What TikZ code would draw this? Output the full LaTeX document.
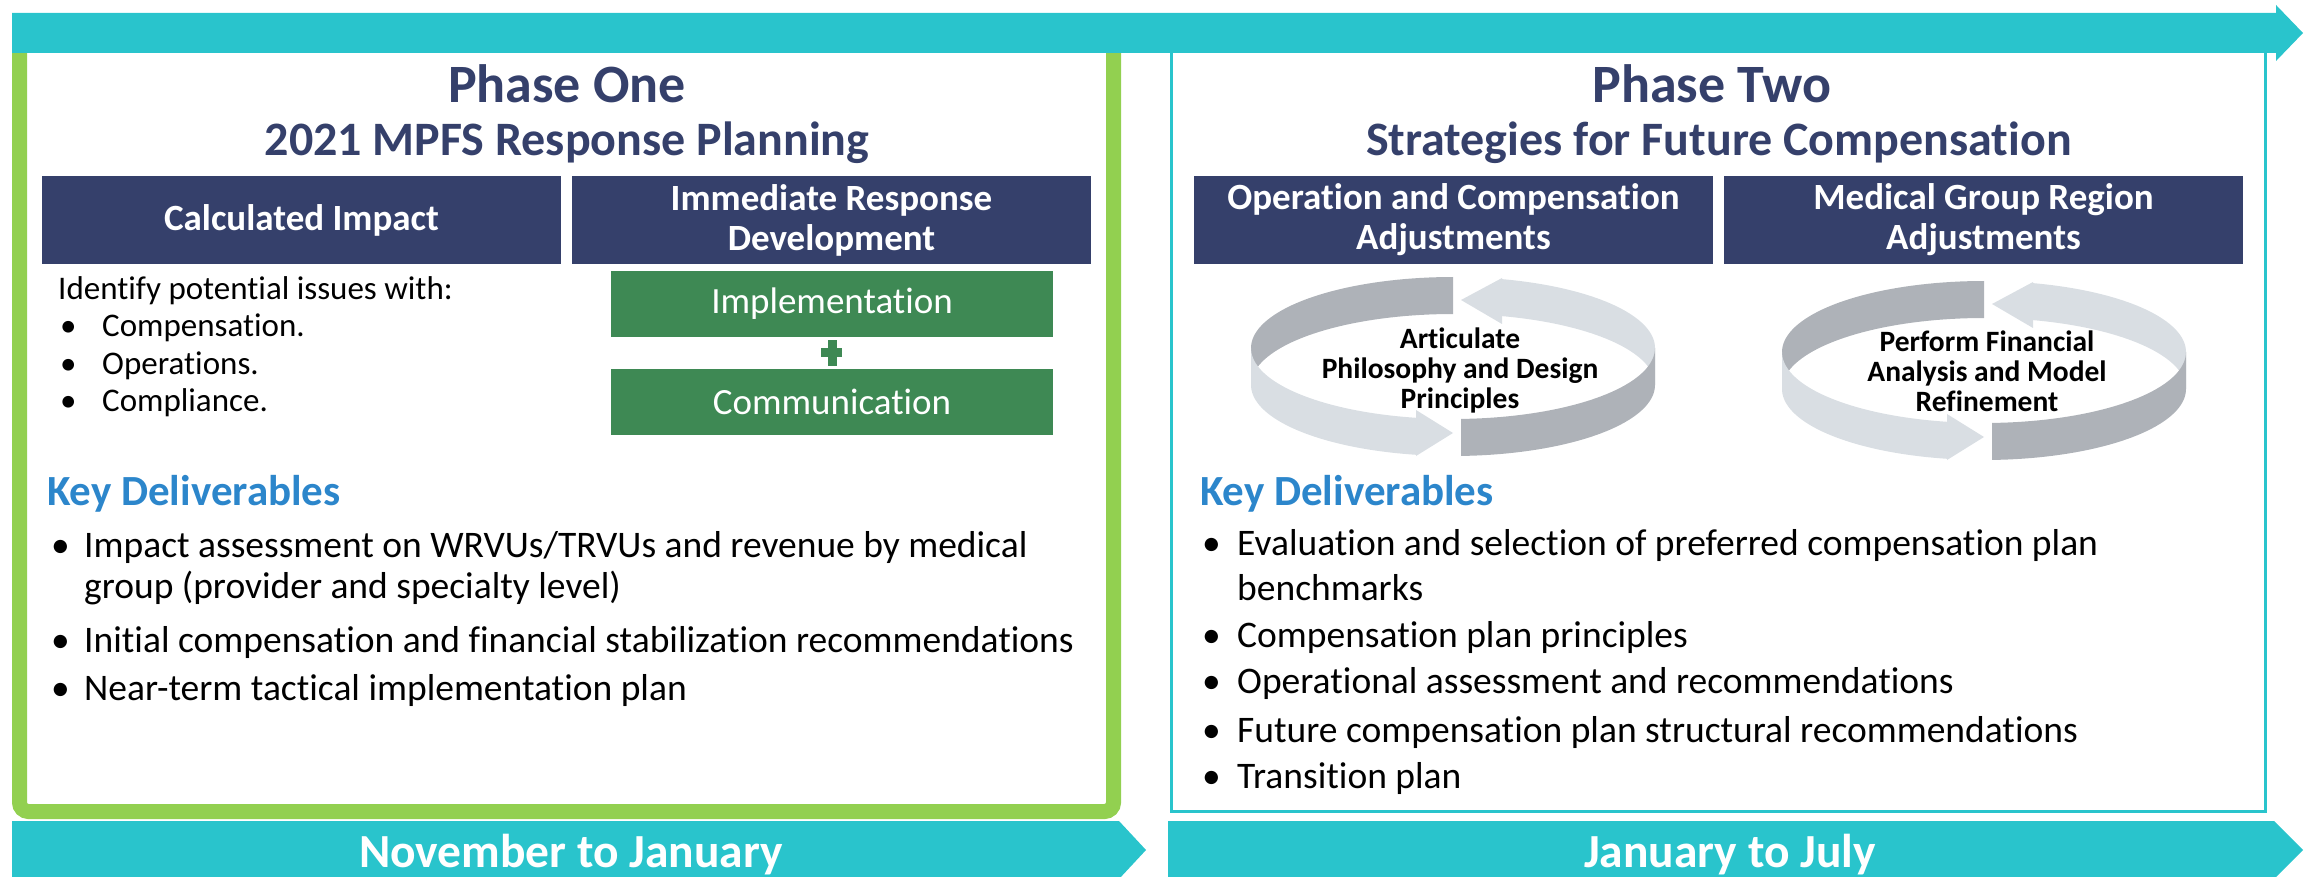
\documentclass[tikz,border=0pt]{standalone}
\usepackage{fontspec}
\setmainfont{Carlito}[Ligatures=NoCommon]
\usepackage{xcolor}
\definecolor{barteal}{HTML}{29C4CC}
\definecolor{phasegreen}{HTML}{92D050}
\definecolor{navy}{HTML}{35406B}
\definecolor{boxgreen}{HTML}{3E8954}
\definecolor{keyblue}{HTML}{2C86CB}
\definecolor{ringdark}{HTML}{AEB2B8}
\definecolor{ringlight}{HTML}{D9DEE3}
\usepackage{tikz}

\tikzset{
  phasetitle/.style={anchor=base, inner sep=0pt, text=navy,
    font=\bfseries\fontsize{54}{58}\selectfont},
  phasesub/.style={anchor=base, inner sep=0pt, text=navy,
    font=\bfseries\fontsize{48}{52}\selectfont},
  headbox/.style={fill=navy, text=white, align=center, inner sep=0pt,
    minimum width=519pt, minimum height=88pt,
    font=\bfseries\fontsize{37}{40}\selectfont},
  greenbox/.style={fill=boxgreen, text=white, inner sep=0pt,
    minimum width=442pt, minimum height=66pt,
    font=\fontsize{37}{40}\selectfont},
  smalltext/.style={anchor=base west, inner sep=0pt,
    font=\fontsize{33}{37}\selectfont},
  bodytext/.style={anchor=base west, inner sep=0pt,
    font=\fontsize{37.5}{41}\selectfont},
  keyhead/.style={anchor=base west, inner sep=0pt, text=keyblue,
    font=\bfseries\fontsize{43}{47}\selectfont},
  ringtext/.style={align=center, inner sep=0pt,
    font=\bfseries\fontsize{29.5}{30}\selectfont},
  bannertext/.style={anchor=base, inner sep=0pt, text=white,
    font=\bfseries\fontsize{47.5}{52}\selectfont}
}

\begin{document}
\begin{tikzpicture}[x=1pt, y=-1pt]
    \newcommand\rrx{202}
    \newcommand\rry{71}
    \newcommand\rrh{37}

    \clip (0, 0) rectangle (2311, 877);

    \draw [phasegreen, line width=15pt, rounded corners=9pt]
    (19.5, 40) rectangle (1113.5, 811.5);
    \draw [barteal, line width=3pt] (1171, 40) rectangle (2265, 811);

    \fill [barteal] (12, 13) -- (2276, 13) -- (2276, 5) -- (2303, 33)
    -- (2276, 61) -- (2276, 53) -- (12, 53) -- cycle;
    \fill [barteal] (12, 821) -- (1119, 821) -- (1146, 850)
    -- (1119, 879) -- (12, 879) -- cycle;
    \fill [barteal] (1168, 821) -- (2274, 821) -- (2303, 850)
    -- (2274, 879) -- (1168, 879) -- cycle;

    \node [phasetitle] (phaseone) at (567, 103) {Phase One};
    \node [phasesub] (phaseonesub) at (567, 156) {2021 MPFS Response Planning};
    \node [phasetitle] (phasetwo) at (1712, 103) {Phase Two};
    \node [phasesub] (phasetwosub) at (1719, 156)
    {Strategies for Future Compensation};

    \node [headbox] (calc) at (301.5, 220) {Calculated Impact};
    \node [headbox] (immediate) at (831.5, 220) {Immediate Response\\Development};
    \node [headbox] (operation) at (1453.5, 220)
    {Operation and Compensation\\Adjustments};
    \node [headbox] (medical) at (1983.5, 220) {Medical Group Region\\Adjustments};

    \node [greenbox] (implement) at (832, 304) {Implementation};
    \node [greenbox] (communicate) at (832, 401.5) {Communication};
    \fill [boxgreen] (827.5, 340) rectangle (836.5, 366);
    \fill [boxgreen] (821, 348.5) rectangle (842, 357.5);

    \node [smalltext] (identify) at (58, 300) {Identify potential issues with:};
    \node [smalltext] (dota) at (60, 337) {\textbullet};
    \node [smalltext] (issuea) at (102, 337) {Compensation.};
    \node [smalltext] (dotb) at (60, 374) {\textbullet};
    \node [smalltext] (issueb) at (102, 374) {Operations.};
    \node [smalltext] (dotc) at (60, 411) {\textbullet};
    \node [smalltext] (issuec) at (102, 411) {Compliance.};

    % rings: back half first, front half over it
    \foreach \cx/\cy in {1453/348, 1984/352} {
      \fill [ringdark]
      plot [domain=270:180, samples=40] ({\cx+\rrx*cos(\x)}, {\cy+\rry*sin(\x)})
      -- plot [domain=180:270, samples=40] ({\cx+\rrx*cos(\x)}, {\cy+\rrh+\rry*sin(\x)})
      -- cycle;
      \fill [ringlight]
      plot [domain=284.04:360, samples=40] ({\cx+\rrx*cos(\x)}, {\cy+\rry*sin(\x)})
      -- plot [domain=360:284.04, samples=40] ({\cx+\rrx*cos(\x)}, {\cy+\rrh+\rry*sin(\x)})
      -- ({\cx+49}, {\cy-24}) -- ({\cx+8}, {\cy-48}) -- ({\cx+49}, {\cy-70}) -- cycle;
      \fill [ringlight]
      plot [domain=180:100.56, samples=40] ({\cx+\rrx*cos(\x)}, {\cy+\rry*sin(\x)})
      -- ({\cx-37}, {\cy+62}) -- ({\cx}, {\cy+85}) -- ({\cx-37}, {\cy+108})
      -- plot [domain=100.56:180, samples=40] ({\cx+\rrx*cos(\x)}, {\cy+\rrh+\rry*sin(\x)})
      -- cycle;
      \fill [ringdark]
      plot [domain=87.73:0, samples=40] ({\cx+\rrx*cos(\x)}, {\cy+\rry*sin(\x)})
      -- plot [domain=0:87.73, samples=40] ({\cx+\rrx*cos(\x)}, {\cy+\rrh+\rry*sin(\x)})
      -- cycle;
    }

    \node [ringtext] (articulate) at (1460, 370)
    {Articulate\\Philosophy and Design\\Principles};
    \node [ringtext] (perform) at (1987, 371)
    {Perform Financial\\Analysis and Model\\Refinement};

    \node [keyhead] (keyone) at (47, 505) {Key Deliverables};
    \node [bodytext] (dotone) at (51, 557) {\textbullet};
    \node [bodytext] (impact) at (84, 557)
    {Impact assessment on WRVUs/TRVUs and revenue by medical};
    \node [bodytext] (impactb) at (84, 598) {group (provider and specialty level)};
    \node [bodytext] (dottwo) at (51, 652) {\textbullet};
    \node [bodytext] (initial) at (84, 652)
    {Initial compensation and financial stabilization recommendations};
    \node [bodytext] (dotthree) at (51, 700) {\textbullet};
    \node [bodytext] (nearterm) at (84, 700) {Near-term tactical implementation plan};

    \node [keyhead] (keytwo) at (1200, 505) {Key Deliverables};
    \node [bodytext] (dotfour) at (1202, 555) {\textbullet};
    \node [bodytext] (evaluate) at (1237, 555)
    {Evaluation and selection of preferred compensation plan};
    \node [bodytext] (evaluateb) at (1237, 600) {benchmarks};
    \node [bodytext] (dotfive) at (1202, 647) {\textbullet};
    \node [bodytext] (principles) at (1237, 647) {Compensation plan principles};
    \node [bodytext] (dotsix) at (1202, 693) {\textbullet};
    \node [bodytext] (operational) at (1237, 693)
    {Operational assessment and recommendations};
    \node [bodytext] (dotseven) at (1202, 742) {\textbullet};
    \node [bodytext] (future) at (1237, 742)
    {Future compensation plan structural recommendations};
    \node [bodytext] (doteight) at (1202, 788) {\textbullet};
    \node [bodytext] (transition) at (1237, 788) {Transition plan};

    \node [bannertext] (novjan) at (571, 867) {November to January};
    \node [bannertext] (janjul) at (1730, 867) {January to July};

  \end{tikzpicture}
\end{document}
